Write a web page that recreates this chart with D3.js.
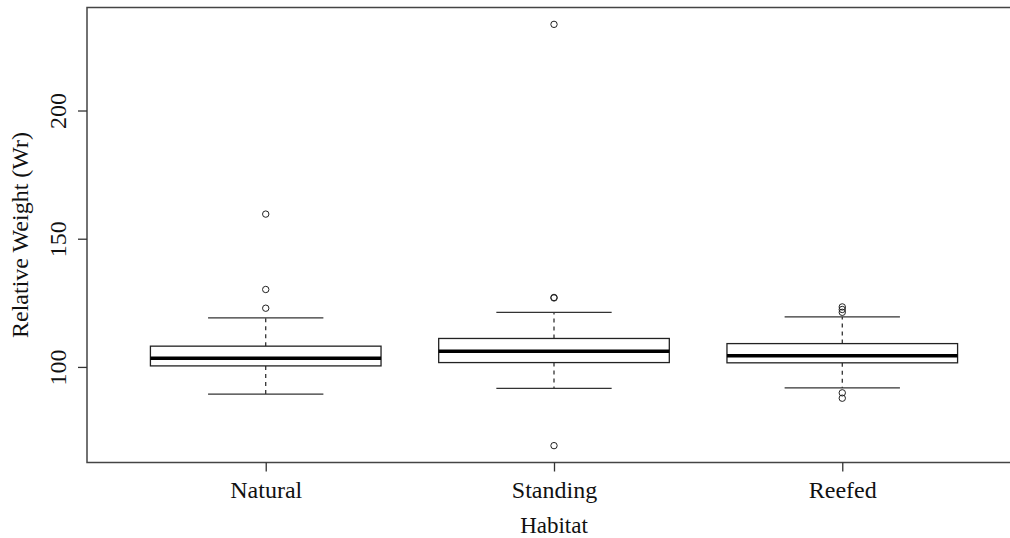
<!DOCTYPE html>
<html>
<head>
<meta charset="utf-8">
<script src="https://cdn.jsdelivr.net/npm/d3@7"></script>
<style>
  html, body { margin: 0; padding: 0; background: #fff; }
  svg { display: block; }
  text { font-family: "Liberation Serif", "Times New Roman", serif; fill: #111; }
</style>
</head>
<body>
<svg id="chart" width="1010" height="538"></svg>
<script>
// ---- data ----
const categories   = ["Natural", "Standing", "Reefed"];
const lowerWhisker = [89.4, 91.6, 91.8];
const q1           = [100.4, 101.7, 101.6];
const medians      = [103.4, 106.1, 104.4];
const q3           = [108.1, 111.1, 109.1];
const upperWhisker = [119.1, 121.3, 119.5];
const outliersNatural  = [159.6, 130.2, 122.9];
const outliersStanding = [233.6, 127.1, 126.9, 69.3];
const outliersReefed   = [123.4, 122.4, 121.3, 89.9, 87.8];
const yTicks = [100, 150, 200];
const xTitle = "Habitat";
const yTitle = "Relative Weight (Wr)";

const outliers = [outliersNatural, outliersStanding, outliersReefed];

// ---- layout ----
const plot = { left: 87, right: 1021, top: 7.5, bottom: 462.5 };
const svg = d3.select("#chart");

// R-style axis extension (4%)
const allVals = [].concat(lowerWhisker, upperWhisker, ...outliers);
const lo = d3.min(allVals), hi = d3.max(allVals);
const ext = 0.04 * (hi - lo);
const y = d3.scaleLinear().domain([lo - ext, hi + ext]).range([plot.bottom, plot.top]);
const n = categories.length;
const xr = 0.04 * n;
const x = d3.scaleLinear().domain([0.5 - xr, n + 0.5 + xr]).range([plot.left, plot.right]);

const boxHalf = 0.4, stapleHalf = 0.2;
const data = categories.map((c, i) => ({
  c, pos: i + 1, lw: lowerWhisker[i], q1: q1[i], med: medians[i], q3: q3[i], uw: upperWhisker[i], out: outliers[i]
}));

const g = svg.append("g");
const boxes = g.selectAll("g.box").data(data).join("g").attr("class", "box");

// whiskers (dashed)
boxes.append("line")
  .attr("x1", d => x(d.pos)).attr("x2", d => x(d.pos))
  .attr("y1", d => y(d.q3)).attr("y2", d => y(d.uw))
  .attr("stroke", "#222").attr("stroke-width", 1.2).attr("stroke-dasharray", "4,4");
boxes.append("line")
  .attr("x1", d => x(d.pos)).attr("x2", d => x(d.pos))
  .attr("y1", d => y(d.q1)).attr("y2", d => y(d.lw))
  .attr("stroke", "#222").attr("stroke-width", 1.2).attr("stroke-dasharray", "4,4");
// staples
boxes.append("line")
  .attr("x1", d => x(d.pos - stapleHalf)).attr("x2", d => x(d.pos + stapleHalf))
  .attr("y1", d => y(d.uw)).attr("y2", d => y(d.uw))
  .attr("stroke", "#333").attr("stroke-width", 1.2);
boxes.append("line")
  .attr("x1", d => x(d.pos - stapleHalf)).attr("x2", d => x(d.pos + stapleHalf))
  .attr("y1", d => y(d.lw)).attr("y2", d => y(d.lw))
  .attr("stroke", "#333").attr("stroke-width", 1.2);
// box
boxes.append("rect")
  .attr("x", d => x(d.pos - boxHalf)).attr("width", d => x(d.pos + boxHalf) - x(d.pos - boxHalf))
  .attr("y", d => y(d.q3)).attr("height", d => y(d.q1) - y(d.q3))
  .attr("fill", "#fff").attr("stroke", "#222").attr("stroke-width", 1.3);
// median
boxes.append("line")
  .attr("x1", d => x(d.pos - boxHalf)).attr("x2", d => x(d.pos + boxHalf))
  .attr("y1", d => y(d.med)).attr("y2", d => y(d.med))
  .attr("stroke", "#000").attr("stroke-width", 3.5);
// outliers
boxes.selectAll("circle").data(d => d.out.map(v => ({ v, pos: d.pos }))).join("circle")
  .attr("cx", d => x(d.pos)).attr("cy", d => y(d.v)).attr("r", 3.2)
  .attr("fill", "none").attr("stroke", "#222").attr("stroke-width", 1);

// plot frame
svg.append("rect")
  .attr("x", plot.left).attr("y", plot.top)
  .attr("width", plot.right - plot.left).attr("height", plot.bottom - plot.top)
  .attr("fill", "none").attr("stroke", "#444").attr("stroke-width", 1.5);

// y axis
const yAxis = svg.append("g").attr("transform", `translate(${plot.left},0)`)
  .call(d3.axisLeft(y).tickValues(yTicks).tickSize(9).tickFormat(d3.format("d")));
yAxis.select(".domain").remove();
yAxis.selectAll(".tick line").attr("stroke", "#333").attr("stroke-width", 1.3);
yAxis.selectAll(".tick text")
  .attr("x", null).attr("dy", null)
  .attr("text-anchor", "middle")
  .attr("transform", "translate(-21,0) rotate(-90)")
  .style("font-size", "24px").style("font-family", "Liberation Serif");

// x axis
const xAxis = svg.append("g").attr("transform", `translate(0,${plot.bottom})`)
  .call(d3.axisBottom(x).tickValues(data.map(d => d.pos)).tickSize(9).tickFormat((d, i) => categories[i]));
xAxis.select(".domain").remove();
xAxis.selectAll(".tick line").attr("stroke", "#333").attr("stroke-width", 1.3);
xAxis.selectAll(".tick text")
  .attr("y", 35).attr("dy", null)
  .style("font-size", "24px").style("font-family", "Liberation Serif");

// titles
svg.append("text").attr("x", x(2)).attr("y", 533).attr("text-anchor", "middle")
  .style("font-size", "23px").text(xTitle);
svg.append("text").attr("transform", `translate(28,${(plot.top + plot.bottom) / 2}) rotate(-90)`)
  .attr("text-anchor", "middle").style("font-size", "24px").text(yTitle);
</script>
</body>
</html>
